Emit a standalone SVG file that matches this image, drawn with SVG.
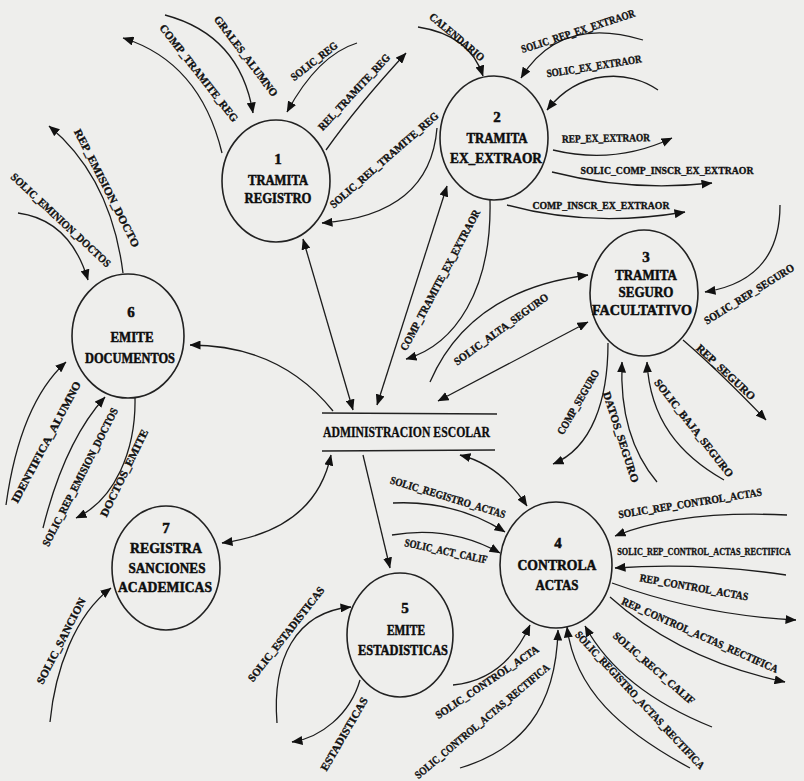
<svg xmlns="http://www.w3.org/2000/svg" width="804" height="781" viewBox="0 0 804 781">
<defs>
  <marker id="ah" viewBox="0 0 11 9" refX="10.5" refY="4.5" markerWidth="11" markerHeight="9" markerUnits="userSpaceOnUse" orient="auto-start-reverse">
    <path d="M0,0 L11,4.5 L0,9 z" fill="#111"/>
  </marker>
</defs>
<style>
  .flow { fill: none; stroke: #1c1c1c; stroke-width: 1.3; marker-end: url(#ah); }
  .both { marker-start: url(#ah); }
  .lbl { font-family: "Liberation Serif", "Times New Roman", serif; font-weight: bold; font-size: 11px; text-anchor: middle; fill: #111; stroke: #111; stroke-width: 0.35; }
  .node ellipse { fill: none; stroke: #222; stroke-width: 1.6; }
  .node text { font-family: "Liberation Serif", "Times New Roman", serif; font-weight: bold; font-size: 15px; text-anchor: middle; fill: #0d0d0d; stroke: #0d0d0d; stroke-width: 0.5; }
  .store line { stroke: #222; stroke-width: 1.6; }
  .store text { font-family: "Liberation Serif", "Times New Roman", serif; font-weight: bold; font-size: 15px; fill: #0d0d0d; stroke: #0d0d0d; stroke-width: 0.3; }
</style>
<rect width="804" height="781" fill="#eeeeec"/>

<!-- data flows -->
<g id="connectors">
  <!-- process 1 -->
  <path class="flow" d="M222,153 Q200,62 123,38"/>
  <text class="lbl" transform="translate(199,73) rotate(52)" dy=".35em" textLength="120" lengthAdjust="spacingAndGlyphs">COMP_TRAMITE_REG</text>
  <path class="flow" d="M165,15 Q240,35 253,113"/>
  <text class="lbl" transform="translate(246,56) rotate(53)" dy=".35em" textLength="98" lengthAdjust="spacingAndGlyphs">GRALES_ALUMNO</text>
  <path class="flow" d="M357,43 Q318,55 287,112"/>
  <text class="lbl" transform="translate(314,61) rotate(-38)" dy=".35em" textLength="56" lengthAdjust="spacingAndGlyphs">SOLIC_REG</text>
  <path class="flow" d="M326,150 Q358,105 406,53"/>
  <text class="lbl" transform="translate(354,92) rotate(-47)" dy=".35em" textLength="100" lengthAdjust="spacingAndGlyphs">REL_TRAMITE_REG</text>
  <path class="flow" d="M437,128 Q430,215 322,223"/>
  <text class="lbl" transform="translate(384,160) rotate(-41)" dy=".35em" textLength="140" lengthAdjust="spacingAndGlyphs">SOLIC_REL_TRAMITE_REG</text>
  <path class="flow both" d="M353,410 L303,239"/>

  <!-- process 2 -->
  <path class="flow both" d="M377,405 L447,186"/>
  <path class="flow" d="M490,200 C492,290 455,345 406,359"/>
  <text class="lbl" transform="translate(440,280) rotate(-62)" dy=".35em" textLength="158" lengthAdjust="spacingAndGlyphs">COMP_TRAMITE_EX_EXTRAOR</text>
  <path class="flow" d="M418,27 Q470,35 483,76"/>
  <text class="lbl" transform="translate(457,37) rotate(40)" dy=".35em" textLength="68" lengthAdjust="spacingAndGlyphs">CALENDARIO</text>
  <path class="flow" d="M643,40 Q560,15 521,78"/>
  <text class="lbl" transform="translate(578,31) rotate(-18)" dy=".35em" textLength="119" lengthAdjust="spacingAndGlyphs">SOLIC_REP_EX_EXTRAOR</text>
  <path class="flow" d="M658,90 C630,70 580,68 547,110"/>
  <text class="lbl" transform="translate(594,66) rotate(-9)" dy=".35em" textLength="96" lengthAdjust="spacingAndGlyphs">SOLIC_EX_EXTRAOR</text>
  <path class="flow" d="M553,150 Q615,165 672,138"/>
  <text class="lbl" transform="translate(606,138) rotate(-1)" dy=".35em" textLength="88" lengthAdjust="spacingAndGlyphs">REP_EX_EXTRAOR</text>
  <path class="flow" d="M552,172 Q630,192 712,183"/>
  <text class="lbl" transform="translate(667,170)" dy=".35em" textLength="173" lengthAdjust="spacingAndGlyphs">SOLIC_COMP_INSCR_EX_EXTRAOR</text>
  <path class="flow" d="M507,205 Q590,228 685,212"/>
  <text class="lbl" transform="translate(601,205)" dy=".35em" textLength="137" lengthAdjust="spacingAndGlyphs">COMP_INSCR_EX_EXTRAOR</text>

  <!-- process 3 -->
  <path class="flow" d="M430,382 Q470,290 588,275"/>
  <text class="lbl" transform="translate(501,329) rotate(-36)" dy=".35em" textLength="114" lengthAdjust="spacingAndGlyphs">SOLIC_ALTA_SEGURO</text>
  <path class="flow both" d="M438,401 L588,322"/>
  <path class="flow" d="M780,205 C780,260 750,285 705,292"/>
  <text class="lbl" transform="translate(749,294) rotate(-32)" dy=".35em" textLength="104" lengthAdjust="spacingAndGlyphs">SOLIC_REP_SEGURO</text>
  <path class="flow" d="M683,340 Q720,372 766,420"/>
  <text class="lbl" transform="translate(726,372) rotate(43)" dy=".35em" textLength="76" lengthAdjust="spacingAndGlyphs">REP_SEGURO</text>
  <path class="flow" d="M724,480 C680,455 650,420 647,362"/>
  <text class="lbl" transform="translate(694,428) rotate(52)" dy=".35em" textLength="121" lengthAdjust="spacingAndGlyphs">SOLIC_BAJA_SEGURO</text>
  <path class="flow" d="M657,482 C630,450 620,410 622,362"/>
  <text class="lbl" transform="translate(621,437) rotate(72)" dy=".35em" textLength="95" lengthAdjust="spacingAndGlyphs">DATOS_SEGURO</text>
  <path class="flow" d="M608,343 C608,400 592,448 553,464"/>
  <text class="lbl" transform="translate(578,402) rotate(-60)" dy=".35em" textLength="73" lengthAdjust="spacingAndGlyphs">COMP_SEGURO</text>

  <!-- process 4 -->
  <path class="flow both" d="M460,455 Q500,465 527,506"/>
  <path class="flow" d="M393,503 Q455,500 505,532"/>
  <text class="lbl" transform="translate(448,497) rotate(17)" dy=".35em" textLength="120" lengthAdjust="spacingAndGlyphs">SOLIC_REGISTRO_ACTAS</text>
  <path class="flow" d="M392,535 Q450,525 500,553"/>
  <text class="lbl" transform="translate(446,551) rotate(12)" dy=".35em" textLength="84" lengthAdjust="spacingAndGlyphs">SOLIC_ACT_CALIF</text>
  <path class="flow" d="M787,515 Q680,510 615,536"/>
  <text class="lbl" transform="translate(690,503) rotate(-9)" dy=".35em" textLength="145" lengthAdjust="spacingAndGlyphs">SOLIC_REP_CONTROL_ACTAS</text>
  <path class="flow" d="M786,575 Q700,562 615,568"/>
  <text class="lbl" transform="translate(704,551) scale(0.7,1)" dy=".35em" textLength="248" lengthAdjust="spacingAndGlyphs">SOLIC_REP_CONTROL_ACTAS_RECTIFICA</text>
  <path class="flow" d="M612,583 Q700,615 796,620"/>
  <text class="lbl" transform="translate(694,587) rotate(10)" dy=".35em" textLength="110" lengthAdjust="spacingAndGlyphs">REP_CONTROL_ACTAS</text>
  <path class="flow" d="M610,597 Q680,660 785,682"/>
  <text class="lbl" transform="translate(700,635) rotate(24)" dy=".35em" textLength="170" lengthAdjust="spacingAndGlyphs">REP_CONTROL_ACTAS_RECTIFICA</text>
  <path class="flow" d="M712,727 Q620,690 585,626"/>
  <text class="lbl" transform="translate(654,668) rotate(41)" dy=".35em" textLength="104" lengthAdjust="spacingAndGlyphs">SOLIC_RECT_CALIF</text>
  <path class="flow" d="M690,768 C620,730 575,690 567,627"/>
  <text class="lbl" transform="translate(640,700) rotate(47) scale(0.7,1)" dy=".35em" textLength="263" lengthAdjust="spacingAndGlyphs">SOLIC_REGISTRO_ACTAS_RECTIFICA</text>
  <path class="flow" d="M453,685 Q505,680 530,625"/>
  <text class="lbl" transform="translate(487,682) rotate(-34)" dy=".35em" textLength="122" lengthAdjust="spacingAndGlyphs">SOLIC_CONTROL_ACTA</text>
  <path class="flow" d="M460,768 C520,750 556,710 558,630"/>
  <text class="lbl" transform="translate(482,721) rotate(-40)" dy=".35em" textLength="172" lengthAdjust="spacingAndGlyphs">SOLIC_CONTROL_ACTAS_RECTIFICA</text>

  <!-- process 5 -->
  <path class="flow" d="M363,455 L390,568"/>
  <path class="flow" d="M277,723 C272,660 295,612 351,607"/>
  <text class="lbl" transform="translate(286,634) rotate(-52)" dy=".35em" textLength="117" lengthAdjust="spacingAndGlyphs">SOLIC_ESTADISTICAS</text>
  <path class="flow" d="M360,680 C350,715 320,738 292,742"/>
  <text class="lbl" transform="translate(344,734) rotate(-60)" dy=".35em" textLength="83" lengthAdjust="spacingAndGlyphs">ESTADISTICAS</text>

  <!-- process 6 -->
  <path class="flow" d="M123,273 C115,210 90,160 49,126"/>
  <text class="lbl" transform="translate(107,188) rotate(63)" dy=".35em" textLength="131" lengthAdjust="spacingAndGlyphs">REP_EMISION_DOCTO</text>
  <path class="flow" d="M18,213 Q70,220 88,280"/>
  <text class="lbl" transform="translate(61,220) rotate(43)" dy=".35em" textLength="132" lengthAdjust="spacingAndGlyphs">SOLIC_EMINION_DOCTOS</text>
  <path class="flow" d="M333,411 Q280,345 190,345"/>
  <path class="flow" d="M6,505 C15,440 35,390 66,362"/>
  <text class="lbl" transform="translate(46,442) rotate(-62)" dy=".35em" textLength="136" lengthAdjust="spacingAndGlyphs">IDENTIFICA_ALUMNO</text>
  <path class="flow" d="M43,528 C55,480 75,430 105,397"/>
  <text class="lbl" transform="translate(80,477) rotate(-63)" dy=".35em" textLength="154" lengthAdjust="spacingAndGlyphs">SOLIC_REP_EMISION_DOCTOS</text>
  <path class="flow" d="M135,398 C136,450 115,500 76,518"/>
  <text class="lbl" transform="translate(124,473) rotate(-64)" dy=".35em" textLength="96" lengthAdjust="spacingAndGlyphs">DOCTOS_EMITE</text>

  <!-- process 7 -->
  <path class="flow both" d="M331,455 Q315,530 222,543"/>
  <path class="flow" d="M50,722 C55,670 75,615 111,588"/>
  <text class="lbl" transform="translate(61,641) rotate(-63)" dy=".35em" textLength="95" lengthAdjust="spacingAndGlyphs">SOLIC_SANCION</text>
</g>

<!-- data store -->
<g id="store-admin" class="store">
  <line x1="322" y1="413" x2="497" y2="414"/>
  <line x1="322" y1="451" x2="495" y2="450"/>
  <text x="323" y="437" textLength="167" lengthAdjust="spacingAndGlyphs">ADMINISTRACION ESCOLAR</text>
</g>

<!-- processes -->
<g id="node-1" class="node">
  <ellipse cx="276" cy="181" rx="54" ry="61"/>
  <text x="278" y="164">1</text>
  <text x="278" y="185" textLength="60" lengthAdjust="spacingAndGlyphs">TRAMITA</text>
  <text x="278" y="203" textLength="67" lengthAdjust="spacingAndGlyphs">REGISTRO</text>
</g>
<g id="node-2" class="node">
  <ellipse cx="494" cy="138" rx="54" ry="62"/>
  <text x="497" y="122">2</text>
  <text x="497" y="143" textLength="61" lengthAdjust="spacingAndGlyphs">TRAMITA</text>
  <text x="496" y="163" textLength="92" lengthAdjust="spacingAndGlyphs">EX_EXTRAOR</text>
</g>
<g id="node-3" class="node">
  <ellipse cx="644" cy="293" rx="54" ry="63"/>
  <text x="646" y="262">3</text>
  <text x="646" y="280" textLength="62" lengthAdjust="spacingAndGlyphs">TRAMITA</text>
  <text x="646" y="297" textLength="55" lengthAdjust="spacingAndGlyphs">SEGURO</text>
  <text x="642" y="315" textLength="100" lengthAdjust="spacingAndGlyphs">FACULTATIVO</text>
</g>
<g id="node-4" class="node">
  <ellipse cx="556" cy="565" rx="56" ry="63"/>
  <text x="558" y="548">4</text>
  <text x="557" y="570" textLength="79" lengthAdjust="spacingAndGlyphs">CONTROLA</text>
  <text x="557" y="590" textLength="43" lengthAdjust="spacingAndGlyphs">ACTAS</text>
</g>
<g id="node-5" class="node">
  <ellipse cx="400" cy="635" rx="53" ry="62"/>
  <text x="405" y="613">5</text>
  <text x="406" y="635" textLength="38" lengthAdjust="spacingAndGlyphs">EMITE</text>
  <text x="403" y="655" textLength="90" lengthAdjust="spacingAndGlyphs">ESTADISTICAS</text>
</g>
<g id="node-6" class="node">
  <ellipse cx="128" cy="336" rx="56" ry="62"/>
  <text x="131" y="317">6</text>
  <text x="132" y="342" textLength="43" lengthAdjust="spacingAndGlyphs">EMITE</text>
  <text x="130" y="363" textLength="90" lengthAdjust="spacingAndGlyphs">DOCUMENTOS</text>
</g>
<g id="node-7" class="node">
  <ellipse cx="166" cy="568" rx="54" ry="62"/>
  <text x="166" y="533">7</text>
  <text x="166" y="553" textLength="72" lengthAdjust="spacingAndGlyphs">REGISTRA</text>
  <text x="167" y="573" textLength="77" lengthAdjust="spacingAndGlyphs">SANCIONES</text>
  <text x="165" y="592" textLength="94" lengthAdjust="spacingAndGlyphs">ACADEMICAS</text>
</g>
</svg>
